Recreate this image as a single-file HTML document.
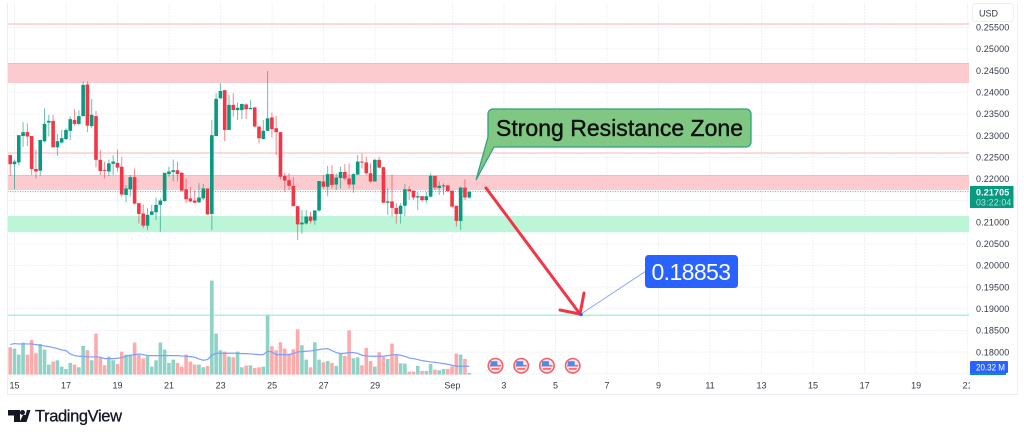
<!DOCTYPE html>
<html lang="en">
<head>
<meta charset="utf-8">
<title>USD price chart with support and resistance zones</title>
<style>
html,body{margin:0;padding:0;background:#fff;width:1024px;height:438px;overflow:hidden}
svg{display:block;font-family:"Liberation Sans",sans-serif;filter:blur(.3px)}
</style>
</head>
<body>
<svg id="chart" width="1024" height="438" viewBox="0 0 1024 438" xmlns="http://www.w3.org/2000/svg">
  <defs>
    <clipPath id="plot-clip"><rect x="7.5" y="3" width="962" height="391"></rect></clipPath>
    <clipPath id="date-clip"><rect x="7.5" y="376" width="962.5" height="18"></rect></clipPath>
  </defs>
  <rect x="0" y="0" width="1024" height="438" fill="#ffffff"></rect>
  <g id="grid"></g>
  <g id="zones" clip-path="url(#plot-clip)"></g>
  <g id="volume" clip-path="url(#plot-clip)"></g>
  <path id="volume-ma" fill="none" stroke="#7f9ffb" stroke-width="1.2"></path>
  <g id="candles" clip-path="url(#plot-clip)"></g>
  <line id="last-price-line" stroke="#089981" stroke-width="1" stroke-dasharray="1 1.5" opacity=".7"></line>

  <g id="events"></g>

  <rect x="7" y="3" width="1" height="391" fill="#eceef2"></rect>
  <rect x="1017" y="3" width="1" height="391" fill="#eceef2"></rect>
  <rect x="7" y="394" width="1011" height="1" fill="#eceef2"></rect>

  <g id="y-axis"></g>
  <g id="x-axis" clip-path="url(#date-clip)"></g>

  <rect x="972.5" y="3.5" width="41" height="18" rx="3" fill="#ffffff" stroke="#eceef2"></rect>
  <text x="979" y="16.5" font-size="9" fill="#333a45">USD</text>

  <rect x="970" y="186" width="43.5" height="22" fill="#089981"></rect>
  <text x="976" y="195.5" font-size="9" font-weight="bold" letter-spacing=".12" fill="#ffffff">0.21705</text>
  <text x="976" y="205.5" font-size="8.8" letter-spacing=".15" fill="#b5e3da">03:22:04</text>

  <rect x="970" y="372" width="36" height="3" fill="#089981"></rect>
  <rect x="970" y="361" width="38" height="12" rx="1" fill="#2962ff"></rect>
  <text x="976" y="370.5" font-size="9" textLength="29" lengthAdjust="spacingAndGlyphs" fill="#ffffff">20.32 M</text>

  <g>
    <path d="M493 109H746a5 5 0 0 1 5 5V142a5 5 0 0 1-5 5H494L476 180L488 137V114a5 5 0 0 1 5-5Z" fill="#81c784" stroke="#2aa57f" stroke-width="1.3"></path>
    <text x="496" y="136" font-size="23" textLength="247" lengthAdjust="spacing" fill="#0b0f0c" stroke="#0b0f0c" stroke-width=".4">Strong Resistance Zone</text>
  </g>

  <g fill="none" stroke="#f23645" stroke-width="3" stroke-linecap="round">
    <line x1="486" y1="188" x2="580" y2="314"></line>
    <line x1="580" y1="314" x2="584" y2="293"></line>
    <line x1="580" y1="314" x2="560" y2="310"></line>
  </g>

  <g>
    <line x1="581" y1="314" x2="646" y2="271" stroke="#86a5fb" stroke-width="1"></line>
    <circle cx="581" cy="314.5" r="1.8" fill="#2962ff"></circle>
    <rect x="645" y="255" width="93" height="33" rx="3.5" fill="#2962ff"></rect>
    <text x="651.5" y="280" font-size="23" textLength="79.5" lengthAdjust="spacing" fill="#ffffff">0.18853</text>
  </g>

  <g>
    <path d="M8 410H20V422H14V415.5H8Z" fill="#131722"></path>
    <circle cx="22.5" cy="412.5" r="2.5" fill="#131722"></circle>
    <path d="M23.5 422L27 410H30.5L26.5 422Z M19.5 422L23 415H26L23.5 422Z" fill="#131722"></path>
    <text x="35" y="421.5" font-size="16.5" textLength="87" lengthAdjust="spacing" fill="#131722" stroke="#131722" stroke-width=".3">TradingView</text>
  </g>
</svg>

<script>
// Prices are in thousandths of a USD (225.5 = 0.2255).
const opens = [225.5,223.4,223.8,229.9,230.8,229.9,222.3,221.9,228.7,233.0,233.4,227.3,228.4,229.2,231.1,233.6,232.7,234.5,241.8,232.2,
234.5,224.4,222.1,221.7,223.5,223.7,222.8,216.3,217.6,220.4,214.4,212.0,209.2,211.7,212.3,214.0,214.9,221.1,221.6,222.0,
221.4,217.6,215.5,215.0,214.6,215.5,217.8,211.9,229.9,238.6,240.5,231.3,237.1,235.9,235.9,237.2,236.1,236.5,232.1,229.2,
231.1,234.2,231.7,230.8,220.7,219.7,218.4,213.7,209.5,209.7,211.3,210.4,212.7,219.4,218.2,221.1,218.7,220.2,221.6,220.1,
218.7,221.0,224.0,223.8,221.3,219.4,224.4,222.7,214.5,214.8,213.3,211.9,213.8,217.6,217.3,215.7,216.0,215.1,215.9,220.7,
217.9,218.4,218.5,217.3,213.8,210.3,218.0,215.7];
const closes = [223.4,224.0,230.1,230.8,229.8,222.3,221.7,229.0,232.7,233.4,227.3,228.7,229.4,231.3,233.8,232.7,234.5,241.7,232.3,234.8,
224.4,221.8,221.9,223.6,224.0,222.6,216.4,217.8,220.4,214.3,211.9,209.2,211.7,212.5,214.0,215.0,221.4,221.7,222.0,221.1,
217.3,215.3,214.8,214.5,215.7,217.8,211.8,230.1,238.5,240.3,231.3,237.1,235.9,236.4,237.3,236.1,236.4,232.1,229.4,231.1,
234.0,231.5,230.8,220.5,219.6,218.4,213.7,209.5,209.9,211.3,210.3,212.7,219.5,218.2,221.1,218.6,220.3,221.6,220.1,218.7,
221.1,224.0,223.8,221.3,219.4,224.4,222.6,214.5,214.8,213.3,211.9,213.8,217.6,217.2,215.7,216.0,215.1,216.0,220.7,218.0,
218.4,218.5,217.2,213.6,210.3,218.0,215.7,217.0];
const highs = [225.5,224.5,230.1,233.1,232.8,229.9,226.7,229.0,236.3,234.8,234.8,230.4,231.3,231.7,234.4,236.1,235.9,242.5,242.5,238.4,
235.7,226.7,224.0,224.5,225.5,226.8,225.1,218.6,220.9,222.4,214.4,214.1,213.2,214.0,215.7,215.5,221.4,222.8,224.5,224.0,
221.7,220.1,218.2,217.4,219.0,218.8,217.8,233.6,239.8,242.1,240.5,239.4,239.8,237.6,237.4,237.4,238.2,236.7,232.1,233.6,
244.9,235.3,234.5,230.8,221.4,221.3,220.4,213.7,212.8,212.8,212.4,212.8,219.5,220.9,223.0,223.2,221.3,222.8,223.4,223.6,
221.3,225.5,225.9,225.1,223.6,224.7,225.1,222.8,217.8,221.0,214.4,214.4,218.8,218.3,217.3,217.0,216.0,217.0,221.3,220.7,
219.4,219.0,218.6,217.3,213.8,218.2,219.9,217.3];
const lows = [220.7,217.6,223.2,227.4,227.6,220.9,220.1,220.7,228.4,229.8,227.3,225.3,228.2,229.0,229.0,232.3,232.4,234.4,230.8,231.7,
222.7,220.9,220.1,220.7,220.9,221.7,215.9,214.6,215.9,214.1,209.7,208.6,208.2,211.7,210.5,207.8,214.7,220.5,219.4,219.4,
217.0,214.4,214.6,214.4,214.4,215.1,211.7,208.2,229.9,238.5,228.7,231.3,234.4,233.6,233.8,233.8,236.1,231.9,228.2,229.2,
231.1,229.6,225.5,219.9,217.0,217.4,213.7,205.9,207.3,209.4,209.7,209.4,212.4,217.8,216.0,217.8,217.4,217.8,219.7,217.8,
216.8,220.9,222.4,220.9,219.1,219.4,222.4,214.4,211.7,211.3,209.7,209.7,211.4,215.1,215.1,212.8,214.7,214.4,215.7,217.4,
216.3,216.3,217.0,213.4,209.0,208.2,215.1,215.4];
// Volume in millions.
const volumes = [82,78,60,96,60,104,64,92,75,30,39,43,24,17,35,30,22,86,73,43,
123,50,28,54,43,32,69,60,60,96,60,48,55,24,43,96,75,35,45,35,
24,60,39,30,30,22,26,282,123,73,69,54,52,69,22,27,28,20,22,24,
178,85,73,97,78,63,76,136,88,45,22,97,45,37,41,35,26,63,56,133,
49,52,28,80,41,24,67,53,47,93,58,34,33,9,9,26,11,11,32,15,
13,17,17,25,63,60,47,5];
const volumeMA = [90,93,92,92,92,92,90,88,86,84,81,78,74,72,62,57,55,55,53,53,
53,52,48,48,48,49,51,55,58,60,62,60,57,57,57,57,57,57,57,57,
56,55,54,52,47,43,45,58,64,64,64,64,64,64,63,63,62,61,60,60,
70,68,60,60,60,60,63,68,69,70,71,73,75,77,78,72,66,63,64,66,
66,64,58,56,55,55,55,55,57,59,60,58,55,50,48,45,42,40,38,37,
35,33,31,28,25,25,25,25];

const priceTicks = ["0.25500","0.25000","0.24500","0.24000","0.23500","0.23000","0.22500","0.22000","0.21000","0.20500","0.20000","0.19500","0.19000","0.18500","0.18000"];
const gridOnlyTicks = ["0.21500","0.17500"];
const dateLabels = ["15","17","19","21","23","25","27","29","Sep","3","5","7","9","11","13","15","17","19","21"];
const dateOffsets = [0,2,4,6,8,10,12,14,17,19,21,23,25,27,29,31,33,35,37];
const eventOffsets = [18.67,19.67,20.67,21.67];

const redBands = [[246.77,242.15],[220.9,217.44]];
const greenBands = [[211.43,207.7]];
const redLevels = [255.77,225.98];
const greenLevels = [188.53];
const lastPrice = 217.05;

const SVGNS = 'http://www.w3.org/2000/svg';
const UP = '#089981', DOWN = '#f23645';
const candleStep = 4.29, firstCandleX = 10.2, bodyWidth = 3.6;
const plotLeft = 7.5, plotRight = 969, volumeBase = 374.6;

function yPrice(v) { return 49 + (250 - v) * 4.33; }
function xCandle(i) { return firstCandleX + i * candleStep; }
function xDay(d) { return 14.5 + d * 25.76; }
function hVolume(v) { return v / 3; }

function mk(tag, attrs, parent) {
  const el = document.createElementNS(SVGNS, tag);
  for (const k in attrs) el.setAttribute(k, attrs[k]);
  parent.appendChild(el);
  return el;
}

const grid = document.getElementById('grid');
priceTicks.concat(gridOnlyTicks).forEach(function (t) {
  const y = yPrice(parseFloat(t) * 1000);
  const l = mk('line', {x1: plotLeft, x2: plotRight, y1: y, y2: y, stroke: '#eef0f4', 'stroke-width': 1, 'stroke-dasharray': '2 1'}, grid);
  
  
});
dateOffsets.forEach(function (d) {
  const x = xDay(d);
  if (x > plotRight) return;
  const l = mk('line', {x1: x, x2: x, y1: 3, y2: 375, stroke: '#eef0f4', 'stroke-width': 1, 'stroke-dasharray': '2 1'}, grid);
  
  
});

const zones = document.getElementById('zones');
redBands.forEach(function (b) {
  const r = mk('rect', {x: plotLeft, width: plotRight - plotLeft, y: yPrice(b[0]), height: yPrice(b[1]) - yPrice(b[0]), fill: '#fccbcf'}, zones);
  
  
  const e = mk('rect', {x: plotLeft, width: plotRight - plotLeft, y: yPrice(b[0]), height: 1, fill: '#fbb6bb'}, zones);
  
  
});
greenBands.forEach(function (b) {
  const r = mk('rect', {x: plotLeft, width: plotRight - plotLeft, y: yPrice(b[0]), height: yPrice(b[1]) - yPrice(b[0]), fill: '#bdf5d9'}, zones);
  
  
});
redLevels.forEach(function (p) {
  const l = mk('rect', {x: plotLeft, width: plotRight - plotLeft, y: yPrice(p) - 0.8, height: 1.6, fill: '#fbd0d3'}, zones);
  
  
});
greenLevels.forEach(function (p) {
  const l = mk('rect', {x: plotLeft, width: plotRight - plotLeft, y: yPrice(p) - 0.7, height: 1.4, fill: '#a9f0cf'}, zones);
  
  
});

const volG = document.getElementById('volume');
volumes.forEach(function (v, i) {
  const up = closes[i] >= opens[i];
  const h = hVolume(v);
  const b = mk('rect', {x: xCandle(i) - bodyWidth / 2, y: volumeBase - h, width: bodyWidth, height: h, fill: up ? '#8fd2c7' : '#fbabab'}, volG);
  
  
});

document.getElementById('volume-ma').setAttribute('d', volumeMA.map(function (v, i) {
  return (i ? 'L' : 'M') + xCandle(i).toFixed(2) + ' ' + (volumeBase - hVolume(v)).toFixed(2);
}).join(''));

const candleG = document.getElementById('candles');
opens.forEach(function (o, i) {
  const c = closes[i], up = c >= o, col = up ? UP : DOWN, x = xCandle(i);
  const g = mk('g', {}, candleG);
  
  
  const w = mk('line', {x1: x, x2: x, y1: yPrice(highs[i]), y2: yPrice(lows[i]), stroke: col, 'stroke-width': 1, opacity: .6}, g);
  
  
  const top = yPrice(Math.max(o, c)), bot = yPrice(Math.min(o, c));
  const b = mk('rect', {x: x - bodyWidth / 2, y: top, width: bodyWidth, height: Math.max(bot - top, 1), fill: col}, g);
  
  
});

const lp = document.getElementById('last-price-line');
lp.setAttribute('x1', plotLeft);
lp.setAttribute('x2', plotRight);
lp.setAttribute('y1', yPrice(lastPrice));
lp.setAttribute('y2', yPrice(lastPrice));

const yAxis = document.getElementById('y-axis');
priceTicks.forEach(function (t) {
  const y = yPrice(parseFloat(t) * 1000);
  const tx = mk('text', {x: 976, y: y + 3.2, 'font-size': 9, 'letter-spacing': '.12', fill: '#333a45'}, yAxis);
  
  
  tx.textContent = t;
});

const xAxis = document.getElementById('x-axis');
dateLabels.forEach(function (t, i) {
  const tx = mk('text', {x: xDay(dateOffsets[i]), y: 388.5, 'font-size': 9, 'text-anchor': 'middle', fill: '#333a45'}, xAxis);
  
  
  tx.textContent = t;
});

const evG = document.getElementById('events');
eventOffsets.forEach(function (d) {
  const cx = xDay(d), cy = 365.7;
  const g = mk('g', {}, evG);
  
  
  const ring = mk('circle', {cx: cx, cy: cy, r: 7.2, fill: '#fde8ea', stroke: '#f4606b', 'stroke-width': 1.6}, g);
  
  
  const s1 = mk('rect', {x: cx - 5.5, y: cy - 0.8, width: 11, height: 1.6, fill: '#f4606b'}, g);
  
  
  const s2 = mk('rect', {x: cx - 4, y: cy + 2.4, width: 8, height: 1.6, fill: '#f4606b'}, g);
  
  
  const can = mk('rect', {x: cx - 5, y: cy - 4.5, width: 7, height: 5, fill: '#4a8df0'}, g);
  
  
});
</script>
</body>
</html>
